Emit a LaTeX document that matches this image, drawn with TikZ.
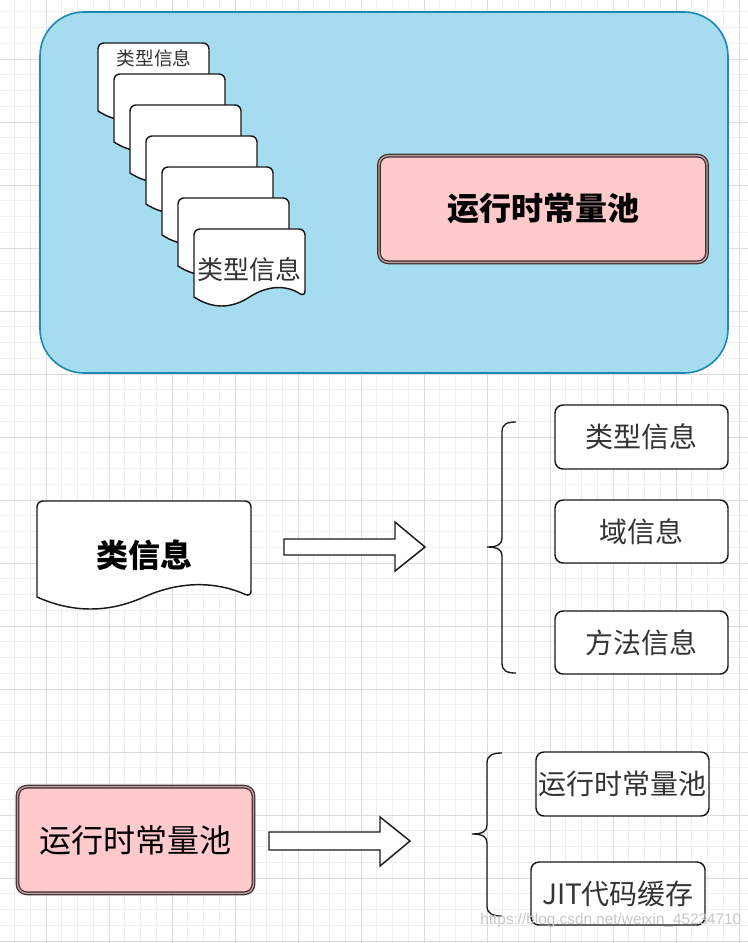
\documentclass[tikz,border=0pt]{standalone}
\usepackage{fontspec}
\setmainfont{Liberation Sans}
\newfontfamily\cjk{Noto Sans CJK SC}
\definecolor{gridminor}{HTML}{EFEFEF}
\definecolor{gridmajor}{HTML}{DCDCDC}
\definecolor{bluefill}{HTML}{A6DCEF}
\definecolor{bluestroke}{HTML}{1E88B4}
\definecolor{pinkfill}{HTML}{FFCACB}
\definecolor{pinkstroke}{HTML}{3A3030}
\definecolor{txt}{HTML}{333333}
\newcommand{\docshape}[6]{% #1 options, #2 x, #3 y, #4 w, #5 e, #6 a
  \filldraw[#1] (#2,{#3+#5}) [rounded corners=4.5pt] -- (#2,#3) -- ({#2+#4},#3) -- ({#2+#4},{#3+#5}) [sharp corners]
   .. controls ({#2+5*#4/6},{#3+#5-4*#6/3}) and ({#2+2*#4/3},{#3+#5-4*#6/3}) .. ({#2+#4/2},{#3+#5})
   .. controls ({#2+#4/3},{#3+#5+4*#6/3}) and ({#2+#4/6},{#3+#5+4*#6/3}) .. (#2,{#3+#5}) -- cycle;}
\begin{document}
\begin{tikzpicture}[x=0.75pt,y=-0.75pt,
  container/.style={draw=bluestroke,fill=bluefill,line width=1.2pt,rounded corners=33pt,minimum width=516pt,minimum height=270.75pt},
  pinkbox/.style={fill=pinkfill,draw=pinkstroke,line width=0.9pt,rounded corners=7pt,double=pinkfill!75!black,double distance=1.1pt,inner sep=0pt},
  whitebox/.style={fill=white,draw=black!90,line width=1.1pt,rounded corners=6pt,text=txt,inner sep=0pt,font=\cjk\fontsize{21}{24}\selectfont},
  docbox/.style={fill=white,draw=black!90,line width=1.1pt},
  blockarrow/.style={fill=white,draw=black!90,line width=1.1pt},
  bracestyle/.style={draw=black!90,line width=1pt}]
\useasboundingbox (0,0) rectangle (748,943);
\fill[white] (0,0) rectangle (748,943);
% grid
\foreach \i in {0,...,47} \draw[gridminor,line width=0.6pt] ({14.5+15.75*\i},0) -- ({14.5+15.75*\i},943);
\foreach \i in {0,...,60} \draw[gridminor,line width=0.6pt] (0,{11.75+15.75*\i}) -- (748,{11.75+15.75*\i});
\foreach \i in {0,...,11} \draw[gridmajor,line width=0.7pt] ({46+63*\i},0) -- ({46+63*\i},943);
\foreach \i in {0,...,14} \draw[gridmajor,line width=0.7pt] (0,{59+63*\i}) -- (748,{59+63*\i});
% container
\node[container] (area) at (384,192.5) {};
% stack of documents
\foreach \i in {0,...,6} {\docshape{docbox}{98+16*\i}{43+31*\i}{111}{68}{9}}
\node[font=\cjk\fontsize{14}{16}\selectfont,text=txt] (typefirst) at (154,58) {类型信息};
\node[font=\cjk\fontsize{19.5}{22}\selectfont,text=txt] (typelast) at (249,270) {类型信息};
% runtime constant pool (top)
\node[pinkbox,minimum width=246pt,minimum height=80pt,font=\cjk\bfseries\fontsize{24}{28}\selectfont] (rcp) at (543,209) {运行时常量池};
% class info document
\docshape{docbox}{37}{501}{214}{96}{12}
\node[font=\cjk\bfseries\fontsize{24}{28}\selectfont] (classinfo) at (144,555) {类信息};
% arrow 1
\draw[blockarrow] (284,539) -- (395,539) -- (395,522) -- (425,547) -- (395,571) -- (395,555) -- (284,555) -- cycle;
% brace 1
\draw[bracestyle] (516,422) .. controls (507,422) and (502,424) .. (502,432) -- (502,538)
  .. controls (502,544) and (498,547) .. (487,547) .. controls (498,547) and (502,550) .. (502,556)
  -- (502,663) .. controls (502,671) and (507,673) .. (516,673);
% right boxes
\node[whitebox,minimum width=129.75pt,minimum height=48pt] (b1) at (641.5,437) {类型信息};
\node[whitebox,minimum width=129.75pt,minimum height=47.25pt] (b2) at (641.5,531.5) {域信息};
\node[whitebox,minimum width=129.75pt,minimum height=47.25pt] (b3) at (641.5,642.5) {方法信息};
% runtime constant pool (bottom)
\node[pinkbox,minimum width=177pt,minimum height=80pt,font=\cjk\fontsize{24}{28}\selectfont] (rcp2) at (135.5,840) {运行时常量池};
% arrow 2
\draw[blockarrow] (269,832) -- (380,832) -- (380,817) -- (410,841) -- (380,866) -- (380,850) -- (269,850) -- cycle;
% brace 2
\draw[bracestyle] (502,753) .. controls (493,753) and (487,755) .. (487,763) -- (487,825)
  .. controls (487,831) and (483,834) .. (472,834) .. controls (483,834) and (487,837) .. (487,843)
  -- (487,906) .. controls (487,914) and (493,916) .. (502,916);
\node[whitebox,minimum width=129.75pt,minimum height=48pt] (c1) at (622.5,784) {运行时常量池};
\node[whitebox,minimum width=130.5pt,minimum height=47.25pt] (c2) at (618,893.5) {JIT代码缓存};
% watermark
\node[text=black!22,font=\fontsize{11.5}{13}\selectfont,anchor=east] (wm) at (746,921) {https://blog.csdn.net/weixin\_45234710};
\end{tikzpicture}
\end{document}
